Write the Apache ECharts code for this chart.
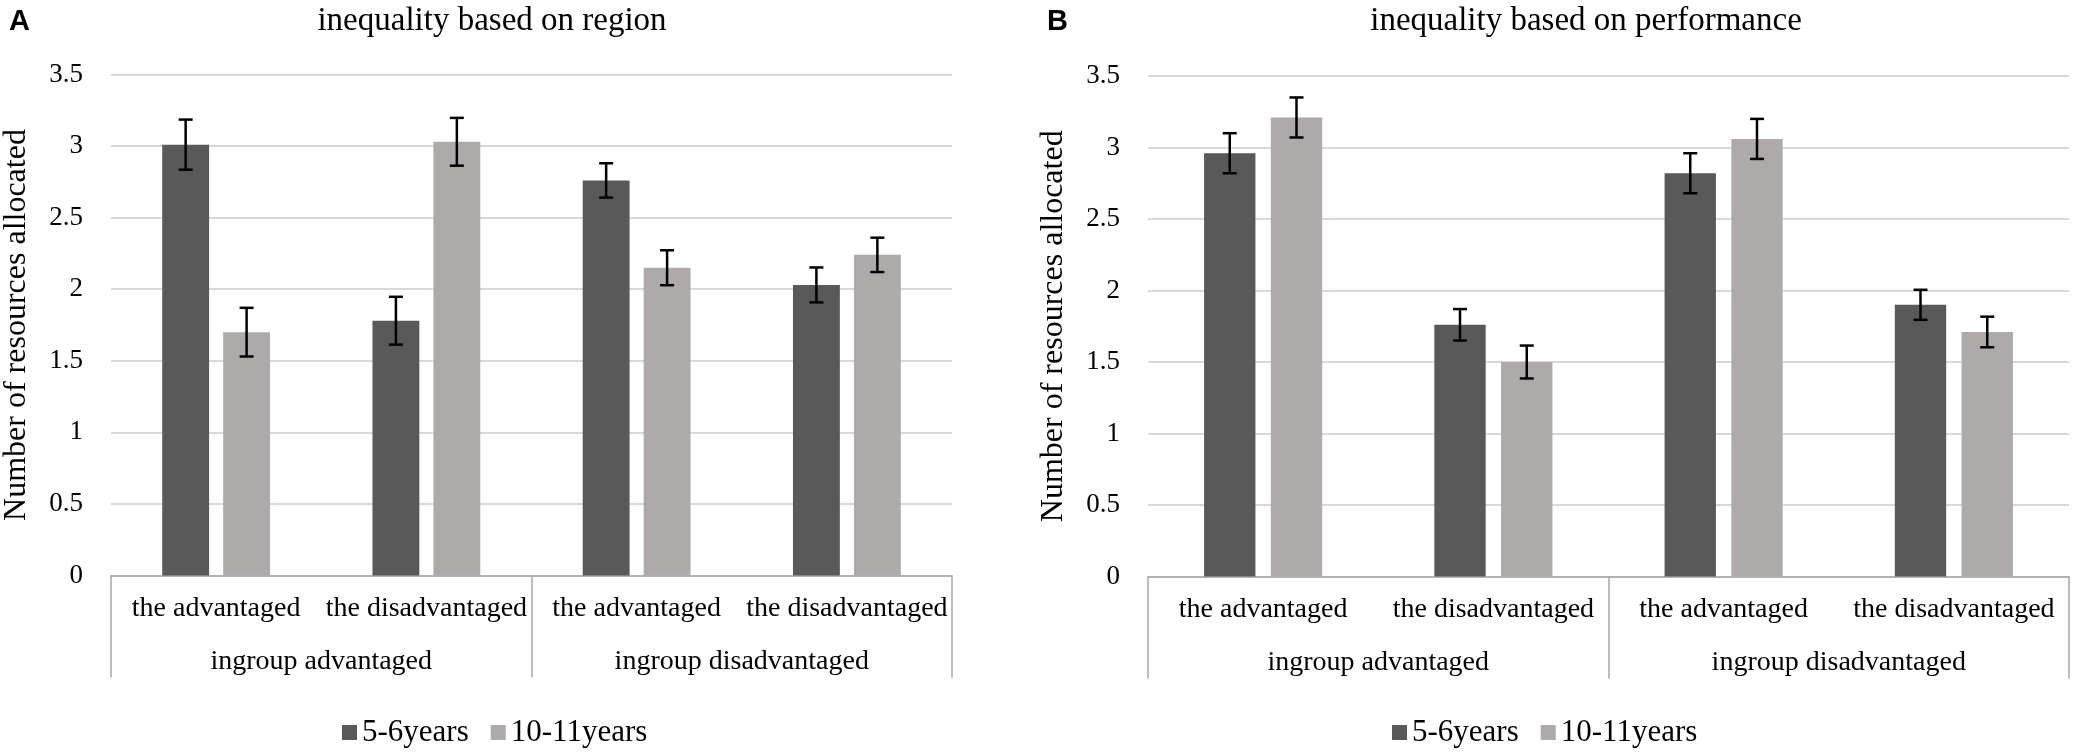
<!DOCTYPE html>
<html>
<head>
<meta charset="utf-8">
<script src="https://cdn.jsdelivr.net/npm/echarts@6/dist/echarts.min.js"></script>
<style>
html,body{margin:0;padding:0;background:#fff;}
#chart{width:2079px;height:753px;}
</style>
</head>
<body>
<div id="chart"></div>
<script>
var categories = ['the advantaged', 'the disadvantaged', 'the advantaged', 'the disadvantaged'];
var groups = ['ingroup advantaged', 'ingroup disadvantaged'];
var seriesNames = ['5-6years', '10-11years'];
var yTicks = [0, 0.5, 1, 1.5, 2, 2.5, 3, 3.5];

var region56 = [3.01, 1.78, 2.76, 2.03];
var region56Err = [0.175, 0.167, 0.12, 0.122];
var region1011 = [1.70, 3.03, 2.15, 2.24];
var region1011Err = [0.17, 0.167, 0.122, 0.12];

var perf56 = [2.96, 1.76, 2.82, 1.90];
var perf56Err = [0.14, 0.11, 0.14, 0.105];
var perf1011 = [3.21, 1.50, 3.06, 1.71];
var perf1011Err = [0.14, 0.115, 0.14, 0.107];

var DARK = '#595959', LIGHT = '#aeaaaa';
var FONT = 'Liberation Serif';
var BAR_FRAC = 0.223, BAR_GAP = 0.30;

function errData(vals, errs) {
  return vals.map(function (v, i) { return [i, v, errs[i]]; });
}
function makeErr(sign) {
  return function (params, api) {
    var x = api.value(0), y = api.value(1), e = api.value(2);
    var band = api.size([1, 0])[0];
    var bw = band * BAR_FRAC;
    var shift = sign * bw * (1 + BAR_GAP) / 2;
    var top = api.coord([x, y + e]);
    var bot = api.coord([x, y - e]);
    var cx = top[0] + shift;
    var h = 7;
    var st = { stroke: '#000', lineWidth: 2.5 };
    return { type: 'group', children: [
      { type: 'line', shape: { x1: cx, y1: top[1], x2: cx, y2: bot[1] }, style: st },
      { type: 'line', shape: { x1: cx - h, y1: top[1], x2: cx + h, y2: top[1] }, style: st },
      { type: 'line', shape: { x1: cx - h, y1: bot[1], x2: cx + h, y2: bot[1] }, style: st }
    ] };
  };
}

var grids = [
  { left: 109, right: 2079 - 952, top: 74.5, bottom: 753 - 575.5 },
  { left: 1148, right: 2079 - 2069, top: 76, bottom: 753 - 576.5 }
];

var xAxes = [], yAxes = [];
[0, 1].forEach(function (g) {
  xAxes.push({
    type: 'category', gridIndex: g, data: categories,
    axisLine: { show: true, lineStyle: { color: '#a6a6a6', width: 1.5 } },
    axisTick: { show: false },
    axisLabel: { interval: 0, color: '#000', fontFamily: FONT, fontSize: 28, margin: 19 }
  });
  xAxes.push({
    type: 'category', gridIndex: g, data: groups, position: 'bottom',
    axisLine: { show: false },
    axisTick: { show: true, length: 102, lineStyle: { color: '#a6a6a6', width: 1.5 } },
    axisLabel: { interval: 0, color: '#000', fontFamily: FONT, fontSize: 28, margin: 72 }
  });
  yAxes.push({
    type: 'value', gridIndex: g, min: 0, max: 3.5, interval: 0.5,
    name: 'Number of resources allocated', nameLocation: 'middle', nameGap: 78,
    nameTextStyle: { color: '#000', fontFamily: FONT, fontSize: 32 },
    axisLine: { show: false }, axisTick: { show: false },
    splitLine: { lineStyle: { color: '#d9d9d9', width: 2 } },
    axisLabel: { color: '#000', fontFamily: FONT, fontSize: 27, margin: 28,
      formatter: function (v) { return yTicks.indexOf(v) >= 0 ? String(v) : ''; } }
  });
});

function barSeries(name, color, data, g) {
  return { type: 'bar', name: name, xAxisIndex: g * 2, yAxisIndex: g, data: data,
    barWidth: (BAR_FRAC * 100) + '%', barGap: (BAR_GAP * 100) + '%',
    itemStyle: { color: color }, silent: true, z: 2 };
}
function errSeries(name, data, sign, g) {
  return { type: 'custom', name: name, xAxisIndex: g * 2, yAxisIndex: g, data: data,
    renderItem: makeErr(sign), encode: { x: 0, y: 1 }, z: 5, silent: true };
}

var legendBase = {
  data: seriesNames, icon: 'rect', itemWidth: 15, itemHeight: 15, itemGap: 22,
  textStyle: { color: '#000', fontFamily: FONT, fontSize: 31 }, top: 712
};

var option = {
  animation: false,
  backgroundColor: '#fff',
  textStyle: { fontFamily: FONT },
  title: [
    { text: 'A', left: 4, top: 2, textStyle: { fontFamily: 'Liberation Sans', fontWeight: 'bold', fontSize: 29, color: '#000' } },
    { text: 'B', left: 1042, top: 2, textStyle: { fontFamily: 'Liberation Sans', fontWeight: 'bold', fontSize: 29, color: '#000' } },
    { text: 'inequality based on region', left: 487, top: 0, textAlign: 'center', textStyle: { fontFamily: FONT, fontWeight: 'normal', fontSize: 33, color: '#000' } },
    { text: 'inequality based on performance', left: 1581, top: 0, textAlign: 'center', textStyle: { fontFamily: FONT, fontWeight: 'normal', fontSize: 33, color: '#000' } }
  ],
  legend: [
    Object.assign({}, legendBase, { left: 337 }),
    Object.assign({}, legendBase, { left: 1387 })
  ],
  grid: grids,
  xAxis: xAxes,
  yAxis: yAxes,
  series: [
    barSeries(seriesNames[0], DARK, region56, 0),
    barSeries(seriesNames[1], LIGHT, region1011, 0),
    errSeries(seriesNames[0], errData(region56, region56Err), -1, 0),
    errSeries(seriesNames[1], errData(region1011, region1011Err), 1, 0),
    barSeries(seriesNames[0], DARK, perf56, 1),
    barSeries(seriesNames[1], LIGHT, perf1011, 1),
    errSeries(seriesNames[0], errData(perf56, perf56Err), -1, 1),
    errSeries(seriesNames[1], errData(perf1011, perf1011Err), 1, 1)
  ]
};

var chart = echarts.init(document.getElementById('chart'));
chart.setOption(option);
</script>
</body>
</html>
